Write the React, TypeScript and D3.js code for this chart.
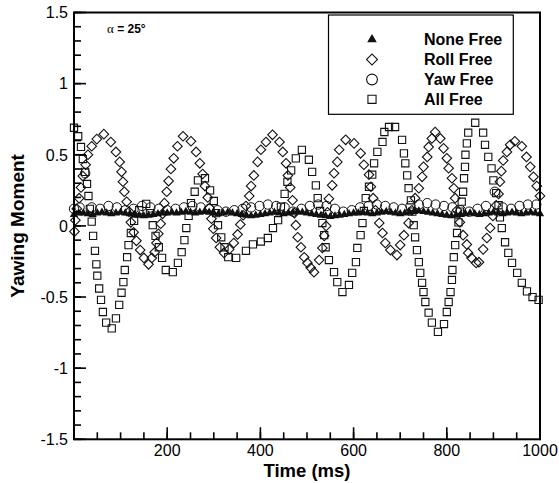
import React from 'react';
import * as d3 from 'd3';

const W = 559;
const H = 483;

const xDomain = [0, 1000];
const yDomain = [-1.5, 1.5];
const xMajorTicks = [200, 400, 600, 800, 1000];
const xTickLabels = ['200', '400', '600', '800', '1000'];
const yMajorTicks = [-1.5, -1, -0.5, 0, 0.5, 1, 1.5];
const yTickLabels = ['-1.5', '-1', '-0.5', '0', '0.5', '1', '1.5'];
const seriesNames = ['None Free', 'Roll Free', 'Yaw Free', 'All Free'];

// [time (ms), yawing moment]
const noneFree: [number, number][] = [
  [0,0.08],[10,0.09],[20,0.09],[30,0.085],[40,0.08],[50,0.09],[60,0.095],[70,0.09],[80,0.085],[90,0.09],[100,0.095],
  [110,0.09],[120,0.085],[130,0.08],[140,0.075],[150,0.07],[160,0.075],[170,0.08],[180,0.085],[190,0.09],[200,0.09],
  [210,0.095],[220,0.09],[230,0.095],[240,0.1],[250,0.095],[260,0.09],[270,0.095],[280,0.1],[290,0.095],[300,0.09],
  [310,0.085],[320,0.09],[330,0.095],[340,0.09],[350,0.085],[360,0.08],[370,0.075],[380,0.07],[390,0.075],[400,0.08],
  [410,0.085],[420,0.09],[430,0.095],[440,0.09],[450,0.085],[460,0.09],[470,0.095],[480,0.1],[490,0.095],[500,0.09],
  [510,0.085],[520,0.08],[530,0.075],[540,0.07],[550,0.065],[560,0.07],[570,0.075],[580,0.08],[590,0.085],[600,0.09],
  [610,0.09],[620,0.095],[630,0.09],[640,0.085],[650,0.09],[660,0.095],[670,0.1],[680,0.095],[690,0.09],[700,0.085],
  [710,0.09],[720,0.095],[730,0.1],[740,0.105],[750,0.1],[760,0.095],[770,0.09],[780,0.085],[790,0.08],[800,0.075],
  [810,0.07],[820,0.075],[830,0.08],[840,0.085],[850,0.09],[860,0.085],[870,0.08],[880,0.085],[890,0.09],[900,0.095],
  [910,0.09],[920,0.085],[930,0.09],[940,0.095],[950,0.09],[960,0.085],[970,0.09],[980,0.095],[990,0.09],[1000,0.085],
];

const rollFree: [number, number][] = [
  [1,-0.04],[3,0.04],[6,0.12],[11,0.195],[15,0.27],[19,0.35],[25,0.43],[30,0.5],[38,0.56],[49,0.61],[64,0.645],
  [79,0.59],[90,0.52],[98,0.45],[102,0.38],[105,0.31],[108,0.24],[113,0.17],[118,0.1],[122,0.025],[128,-0.045],
  [134,-0.105],[142,-0.17],[150,-0.225],[160,-0.27],[167,-0.225],[173,-0.185],[177,-0.12],[181,-0.055],[186,0.015],
  [190,0.085],[194,0.16],[199,0.24],[203,0.315],[208,0.4],[214,0.475],[222,0.56],[234,0.63],[251,0.595],[262,0.52],
  [270,0.44],[276,0.365],[281,0.28],[287,0.2],[291,0.125],[295,0.05],[299,-0.02],[305,-0.085],[313,-0.15],[322,-0.19],
  [333,-0.165],[343,-0.12],[351,-0.06],[357,0.01],[363,0.075],[369,0.14],[376,0.21],[380,0.28],[386,0.355],[394,0.45],
  [401,0.535],[412,0.59],[426,0.64],[441,0.59],[448,0.52],[455,0.44],[459,0.355],[464,0.27],[469,0.18],[473,0.09],
  [476,0.005],[480,-0.08],[487,-0.15],[494,-0.22],[501,-0.26],[508,-0.295],[515,-0.325],[526,-0.24],[533,-0.155],
  [537,-0.07],[541,0.0],[544,0.095],[547,0.19],[554,0.285],[558,0.37],[565,0.45],[569,0.535],[583,0.605],[601,0.58],
  [615,0.51],[622,0.43],[633,0.36],[637,0.275],[642,0.195],[647,0.11],[655,0.02],[662,-0.05],[668,-0.12],[679,-0.17],
  [693,-0.205],[700,-0.135],[708,-0.065],[718,0.02],[725,0.11],[732,0.195],[740,0.265],[747,0.345],[750,0.415],
  [758,0.485],[761,0.555],[768,0.615],[775,0.66],[786,0.615],[793,0.545],[800,0.475],[804,0.405],[811,0.335],
  [815,0.265],[818,0.195],[822,0.11],[828,0.025],[835,-0.065],[843,-0.13],[846,-0.19],[853,-0.225],[863,-0.26],
  [869,-0.255],[878,-0.165],[886,-0.085],[893,-0.015],[899,0.07],[906,0.145],[911,0.225],[914,0.31],[917,0.385],
  [921,0.46],[929,0.52],[936,0.57],[946,0.595],[961,0.56],[971,0.485],[979,0.415],[986,0.345],[993,0.28],[1000,0.21],
];

const yawFree: [number, number][] = [
  [0,0.12],[12,0.13],[24,0.37],[38,0.13],[56,0.12],[74,0.14],[92,0.13],[110,0.11],[128,0.12],[146,0.14],
  [164,0.13],[182,0.12],[200,0.11],[218,0.12],[236,0.13],[254,0.14],[272,0.13],[290,0.12],[308,0.11],[326,0.1],
  [344,0.11],[362,0.12],[380,0.13],[398,0.14],[416,0.15],[434,0.14],[452,0.13],[470,0.1],[488,0.12],[506,0.14],
  [524,0.15],[542,0.14],[560,0.12],[578,0.1],[596,0.11],[614,0.13],[632,0.14],[650,0.15],[668,0.14],[686,0.13],
  [704,0.12],[722,0.14],[740,0.15],[758,0.16],[776,0.15],[794,0.14],[812,0.13],[830,0.11],[848,0.1],[866,0.12],
  [884,0.14],[903,0.24],[920,0.13],[938,0.12],[956,0.14],[974,0.15],[992,0.15],
];

const allFree: [number, number][] = [
  [0,0.69],[9,0.63],[15,0.555],[19,0.47],[24,0.38],[28,0.295],[31,0.21],[34,0.12],[38,0.03],[41,-0.07],[45,-0.175],
  [48,-0.27],[50,-0.35],[54,-0.44],[58,-0.52],[62,-0.605],[69,-0.68],[81,-0.72],[90,-0.65],[97,-0.555],[102,-0.47],
  [106,-0.395],[109,-0.31],[114,-0.22],[117,-0.135],[122,-0.05],[129,0.035],[140,0.11],[155,0.155],[163,0.09],
  [169,0.005],[175,-0.07],[182,-0.15],[189,-0.225],[197,-0.31],[212,-0.325],[223,-0.26],[231,-0.185],[237,-0.1],
  [241,-0.015],[246,0.07],[251,0.16],[259,0.24],[266,0.32],[281,0.335],[292,0.25],[300,0.175],[305,0.09],[309,0.005],
  [316,-0.08],[323,-0.15],[331,-0.22],[348,-0.225],[369,-0.175],[384,-0.13],[401,-0.11],[416,-0.085],[427,-0.015],
  [438,0.04],[444,0.135],[452,0.225],[458,0.31],[466,0.39],[476,0.475],[489,0.535],[504,0.465],[511,0.38],[519,0.285],
  [523,0.195],[528,0.105],[533,0.02],[537,-0.065],[540,-0.15],[547,-0.24],[558,-0.325],[565,-0.395],[576,-0.465],
  [590,-0.415],[597,-0.33],[605,-0.255],[608,-0.155],[615,-0.065],[619,0.02],[622,0.105],[626,0.195],[633,0.275],
  [640,0.36],[644,0.44],[651,0.52],[662,0.59],[666,0.66],[676,0.695],[689,0.695],[704,0.605],[708,0.51],[711,0.44],
  [715,0.355],[718,0.265],[723,0.18],[726,0.1],[729,0.005],[732,-0.08],[736,-0.17],[740,-0.255],[743,-0.33],[747,-0.4],
  [750,-0.465],[754,-0.535],[761,-0.61],[768,-0.68],[781,-0.745],[794,-0.69],[800,-0.605],[804,-0.535],[808,-0.465],
  [811,-0.38],[812,-0.31],[815,-0.22],[818,-0.135],[822,-0.05],[825,0.025],[828,0.1],[832,0.17],[835,0.24],[837,0.335],
  [839,0.415],[840,0.5],[843,0.58],[846,0.655],[861,0.725],[878,0.655],[882,0.57],[889,0.485],[896,0.405],[900,0.32],
  [906,0.23],[911,0.145],[914,0.06],[918,-0.015],[925,-0.115],[932,-0.19],[940,-0.26],[951,-0.33],[961,-0.4],
  [972,-0.46],[984,-0.5],[997,-0.52],
];

const FONT = "'Liberation Sans', Arial, Helvetica, sans-serif";
const INK = '#111';

export default function App() {
  const x = d3.scaleLinear().domain(xDomain).range([74, 540]);
  const y = d3.scaleLinear().domain(yDomain).range([439.3, 12.5]);
  const x0 = x.range()[0];
  const x1 = x.range()[1];
  const yb = y.range()[0];
  const yt = y.range()[1];

  const xMinor = x.ticks(20);
  const yMinor = y.ticks(30);

  const triPath = d3.symbol(d3.symbolTriangle, 30)() as string;
  const sqPath = d3.symbol(d3.symbolSquare, 52)() as string;
  const diaPath = d3.symbol(d3.symbolSquare, 46)() as string;

  const triLeg = d3.symbol(d3.symbolTriangle, 40)() as string;
  const sqLeg = d3.symbol(d3.symbolSquare, 66)() as string;
  const diaLeg = d3.symbol(d3.symbolSquare, 60)() as string;

  const legendRows = [39.5, 59.5, 79.5, 99.3];
  const legX = 372;

  const legendSymbol = (i: number, cy: number) => {
    if (i === 0) return <path d={triLeg} transform={`translate(${legX},${cy})`} fill={INK} />;
    if (i === 1)
      return <path d={diaLeg} transform={`translate(${legX},${cy}) rotate(45)`} fill="none" stroke={INK} strokeWidth={1.1} />;
    if (i === 2) return <circle cx={legX} cy={cy} r={5.4} fill="none" stroke={INK} strokeWidth={1.1} />;
    return <path d={sqLeg} transform={`translate(${legX},${cy})`} fill="none" stroke={INK} strokeWidth={1.1} />;
  };

  return (
    <svg
      width={W}
      height={H}
      viewBox={`0 0 ${W} ${H}`}
      style={{ position: 'absolute', left: 0, top: 0, background: '#fff' }}
      fontFamily={FONT}
    >
      <rect x={0} y={0} width={W} height={H} fill="#fff" />

      {/* data */}
      <g>
        {noneFree.map(([t, v], i) => (
          <path key={`n${i}`} d={triPath} transform={`translate(${x(t)},${y(v)})`} fill={INK} />
        ))}
      </g>
      <g fill="none" stroke={INK} strokeWidth={1.1}>
        {rollFree.map(([t, v], i) => (
          <path key={`r${i}`} d={diaPath} transform={`translate(${x(t)},${y(v)}) rotate(45)`} />
        ))}
      </g>
      <g fill="none" stroke={INK} strokeWidth={1}>
        {yawFree.map(([t, v], i) => (
          <circle key={`y${i}`} cx={x(t)} cy={y(v)} r={4.7} />
        ))}
      </g>
      <g fill="none" stroke={INK} strokeWidth={1.1}>
        {allFree.map(([t, v], i) => (
          <path key={`a${i}`} d={sqPath} transform={`translate(${x(t)},${y(v)})`} />
        ))}
      </g>

      {/* frame */}
      <rect x={x0} y={yt} width={x1 - x0} height={yb - yt} fill="none" stroke="#000" strokeWidth={2} />

      {/* ticks */}
      <g stroke="#000" strokeWidth={1.6}>
        {xMinor.map((t) => (
          <line key={`xm${t}`} x1={x(t)} x2={x(t)} y1={yb} y2={yb - 7} />
        ))}
        {xMajorTicks.map((t) => (
          <line key={`xM${t}`} x1={x(t)} x2={x(t)} y1={yb} y2={yb - 12} />
        ))}
        {yMinor.map((v) => (
          <line key={`ym${v}`} x1={x0} x2={x0 + 7} y1={y(v)} y2={y(v)} />
        ))}
        {yMajorTicks.map((v) => (
          <line key={`yM${v}`} x1={x0} x2={x0 + 12} y1={y(v)} y2={y(v)} />
        ))}
      </g>

      {/* tick labels */}
      <g fontSize={16} fill="#000">
        {xMajorTicks.map((t, i) => (
          <text key={`xl${t}`} x={x(t)} y={456} textAnchor="middle">
            {xTickLabels[i]}
          </text>
        ))}
        {yMajorTicks.map((v, i) => (
          <text key={`yl${v}`} x={68} y={y(v)} dy="0.36em" textAnchor="end">
            {yTickLabels[i]}
          </text>
        ))}
      </g>

      {/* axis titles */}
      <text x={(x0 + x1) / 2} y={476.5} textAnchor="middle" fontSize={18.5} fontWeight="bold">
        Time (ms)
      </text>
      <text
        transform={`translate(24,${(yt + yb) / 2}) rotate(-90)`}
        textAnchor="middle"
        fontSize={19}
        fontWeight="bold"
      >
        Yawing Moment
      </text>

      {/* annotation */}
      <text x={107} y={33} fontSize={12}>
        <tspan fontFamily="'Liberation Serif', serif" fontSize={13}>α</tspan>
        <tspan fontWeight="bold"> = 25°</tspan>
      </text>

      {/* legend */}
      <rect x={328.5} y={15} width={184.8} height={99.3} fill="#fff" stroke="#000" strokeWidth={1.2} />
      {seriesNames.map((name, i) => (
        <g key={name}>
          {legendSymbol(i, legendRows[i])}
          <text x={424} y={legendRows[i]} dy="0.35em" fontSize={16} fontWeight="bold">
            {name}
          </text>
        </g>
      ))}
    </svg>
  );
}
